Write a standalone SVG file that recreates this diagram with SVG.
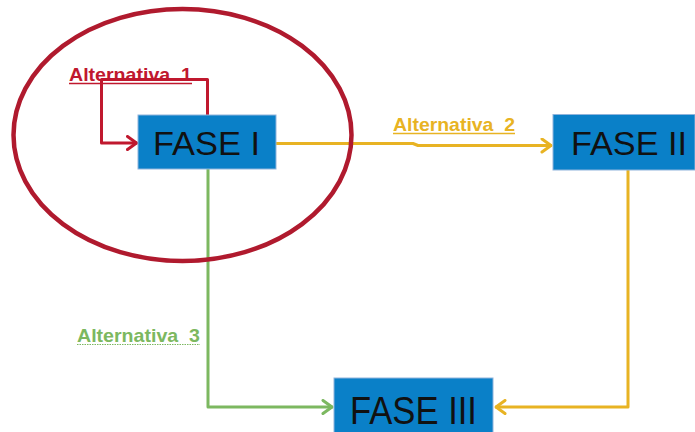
<svg xmlns="http://www.w3.org/2000/svg" width="695" height="432" viewBox="0 0 695 432">
  <defs>
    <style>
      .box { fill: #0a80c8; stroke: #8fb4dc; stroke-width: 1; }
      .fase { font-family: "Liberation Sans", Arial, sans-serif; font-size: 34px; fill: #111111; }
      .lbl { font-family: "Liberation Sans", Arial, sans-serif; font-size: 19px; font-weight: bold; white-space: pre; }
      .conn { fill: none; stroke-width: 3; stroke-linejoin: round; stroke-linecap: round; }
      .red { stroke: #c0182e; }
      .yellow { stroke: #e8b323; }
      .green { stroke: #7cb860; }
    </style>
    <marker id="arrRed" viewBox="0 0 12 16" refX="11" refY="8" markerWidth="12" markerHeight="16" markerUnits="userSpaceOnUse" orient="auto">
      <path d="M2,1.5 L11,8 L2,14.5" fill="none" stroke="#c0182e" stroke-width="3" stroke-linecap="round" stroke-linejoin="round"/>
    </marker>
    <marker id="arrYellow" viewBox="0 0 12 16" refX="11" refY="8" markerWidth="12" markerHeight="16" markerUnits="userSpaceOnUse" orient="auto">
      <path d="M2,1.5 L11,8 L2,14.5" fill="none" stroke="#e8b323" stroke-width="3" stroke-linecap="round" stroke-linejoin="round"/>
    </marker>
    <marker id="arrGreen" viewBox="0 0 12 16" refX="11" refY="8" markerWidth="12" markerHeight="16" markerUnits="userSpaceOnUse" orient="auto">
      <path d="M2,1.5 L11,8 L2,14.5" fill="none" stroke="#7cb860" stroke-width="3" stroke-linecap="round" stroke-linejoin="round"/>
    </marker>
  </defs>

  <rect width="695" height="432" fill="#ffffff"/>

  <!-- connectors -->
  <g id="connectors">
    <path class="conn red" d="M207.5,115 V79.5 H101.5 V143 H136.5" marker-end="url(#arrRed)"/>
    <path class="conn yellow" d="M276,143.5 H413 L418,145.5 H551" marker-end="url(#arrYellow)"/>
    <path class="conn yellow" d="M628,170 V407 H496" marker-end="url(#arrYellow)"/>
    <path class="conn green" d="M208,169 V407 H332" marker-end="url(#arrGreen)"/>
  </g>

  <!-- connector labels -->
  <g id="labels">
    <text class="lbl" x="69" y="81" fill="#c0182e" textLength="123" lengthAdjust="spacingAndGlyphs">Alternativa  1</text>
    <line x1="69" y1="83.5" x2="192" y2="83.5" stroke="#c0182e" stroke-width="1.5"/>
    <text class="lbl" x="393" y="131" fill="#e8b323" textLength="122" lengthAdjust="spacingAndGlyphs">Alternativa  2</text>
    <line x1="393" y1="133.5" x2="515" y2="133.5" stroke="#e8b323" stroke-width="1.5"/>
    <text class="lbl" x="77" y="342" fill="#7cb860" textLength="123" lengthAdjust="spacingAndGlyphs">Alternativa  3</text>
    <line x1="77" y1="344.5" x2="200" y2="344.5" stroke="#7cb860" stroke-width="1" stroke-dasharray="1.5 1"/>
  </g>

  <!-- nodes -->
  <g id="fase1">
    <rect class="box" x="138" y="115" width="138" height="54"/>
    <text class="fase" x="153" y="155" textLength="107" lengthAdjust="spacingAndGlyphs">FASE I</text>
  </g>
  <g id="fase2">
    <rect class="box" x="553" y="114.5" width="142" height="55.5"/>
    <text class="fase" x="571" y="155" textLength="116" lengthAdjust="spacingAndGlyphs">FASE II</text>
  </g>
  <g id="fase3">
    <rect class="box" x="334" y="378" width="159" height="60"/>
    <text class="fase" x="350" y="424" style="font-size:38px" textLength="127" lengthAdjust="spacingAndGlyphs">FASE III</text>
  </g>

  <!-- highlight ring around the first phase -->
  <g id="highlight">
    <ellipse cx="182.5" cy="135" rx="169" ry="126" fill="none" stroke="#b01a2e" stroke-width="4.5"/>
  </g>
</svg>
